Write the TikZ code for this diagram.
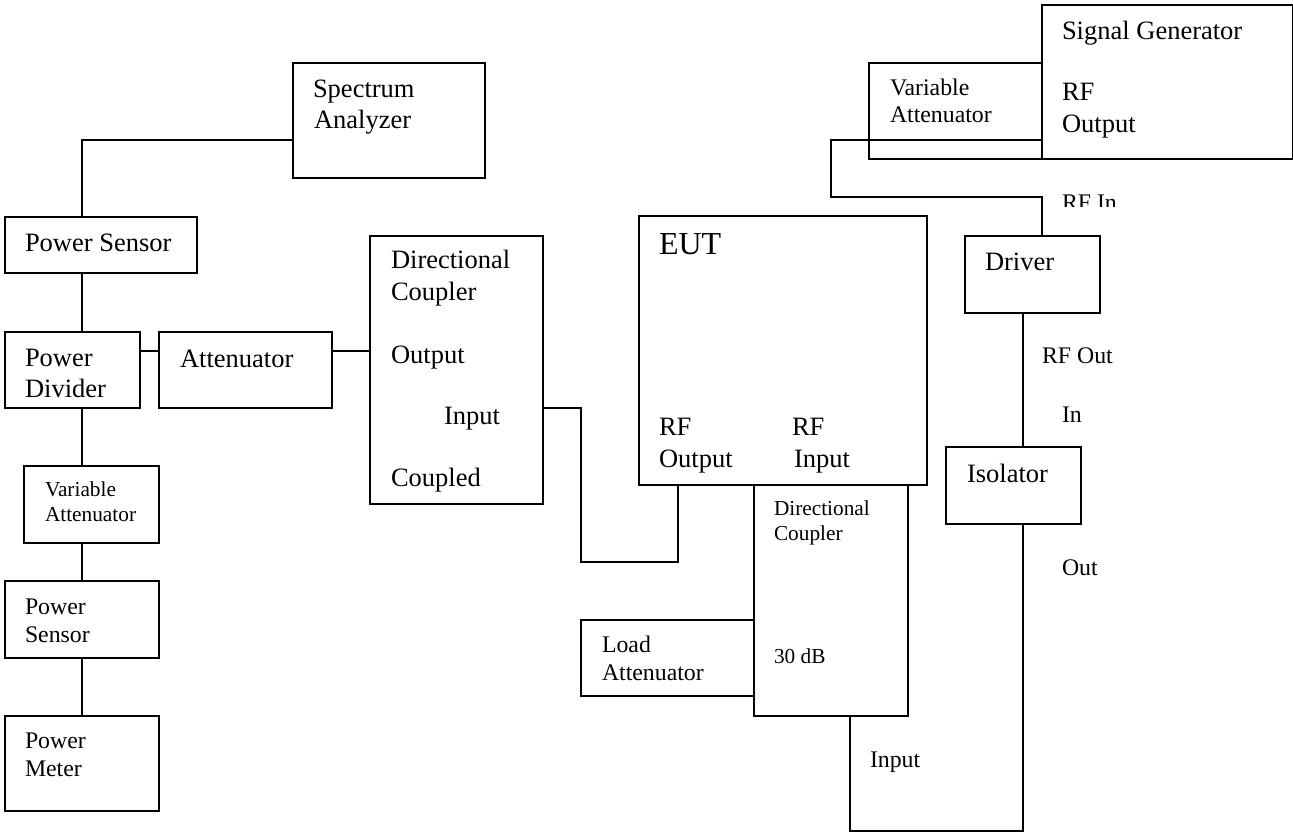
\documentclass[tikz,border=0pt]{standalone}
\usepackage{fontspec}
\setmainfont{Liberation Serif}
\usetikzlibrary{calc}
\newcommand{\bx}[5]{\node[boxnode,minimum width={(#4-#2)*1pt},minimum height={(#5-#3)*1pt}] (#1) at ({(#2+#4)/2},{(#3+#5)/2}) {};}
\newcommand{\tx}[5][txt]{\node[#1] (#2) at (#3,#4) {#5};}
\tikzset{
 boxnode/.style={draw=black,line width=1.7pt,inner sep=0pt,outer sep=0pt,rectangle},
 wire/.style={draw=black,line width=1.7pt,line join=miter},
 txt/.style={anchor=base west,inner sep=0pt,outer sep=0pt,font=\fontsize{26.5}{27}\selectfont},
 med/.style={txt,font=\fontsize{23.8}{24}\selectfont},
 sml/.style={txt,font=\fontsize{21.3}{22}\selectfont},
 big/.style={txt,font=\fontsize{32}{32}\selectfont}
}
\begin{document}
\begin{tikzpicture}[x=1pt,y=-1pt]
\useasboundingbox (0,0) rectangle (1293,834);
% boxes
\bx{sa}{293}{63}{485}{178}
\bx{ps}{5}{217}{197}{273}
\bx{pd}{5}{332}{140}{408}
\bx{at}{159}{332}{332}{408}
\bx{dc}{370}{236}{543}{504}
\bx{va}{24}{466}{159}{543}
\bx{pb}{5}{581}{159}{658}
\bx{pm}{5}{716}{159}{811}
\bx{eut}{639}{216}{927}{485}
\bx{la}{581}{620}{754}{696}
\bx{dd}{754}{485}{908}{716}
\bx{iso}{946}{447}{1081}{524}
\bx{drv}{965}{236}{1100}{313}
\bx{vt}{869}{63}{1042}{159}
\bx{sg}{1042}{5}{1293}{159}
% port coordinates
\coordinate (p1) at (82,140);
\coordinate (p2) at (581,408);
\coordinate (p3) at (581,562);
\coordinate (p4) at (678,562);
\coordinate (p5) at (831,140);
\coordinate (p6) at (831,197);
\coordinate (p7) at (1042,197);
\coordinate (p8) at (850,831);
\coordinate (p9) at (1023,831);
% connectors
\draw[wire] (sa.west |- p1) -- (p1) -- (p1 |- ps.north);
\draw[wire] (p1 |- ps.south) -- (p1 |- pd.north);
\draw[wire] (pd.east |- 0,351) -- (at.west |- 0,351);
\draw[wire] (at.east |- 0,351) -- (dc.west |- 0,351);
\draw[wire] (p1 |- pd.south) -- (p1 |- va.north);
\draw[wire] (p1 |- va.south) -- (p1 |- pb.north);
\draw[wire] (p1 |- pb.south) -- (p1 |- pm.north);
\draw[wire] (dc.east |- p2) -- (p2) -- (p3) -- (p4) -- (p4 |- eut.south);
\draw[wire] (sg.west |- p5) -- (p5) -- (p6) -- (p7) -- (p7 |- drv.north);
\draw[wire] (p9 |- drv.south) -- (p9 |- iso.north);
\draw[wire] (p9 |- iso.south) -- (p9) -- (p8) -- (p8 |- dd.south);
% text
\tx{t1}{313}{98}{Spectrum}
\tx{t2}{314}{129}{Analyzer}
\tx{t3}{25}{252}{Power Sensor}
\tx{t4}{25}{366}{Power}
\tx{t5}{25}{397}{Divider}
\tx{t6}{180}{367}{Attenuator}
\tx{t7}{391}{269}{Directional}
\tx{t8}{391}{301}{Coupler}
\tx{t9}{391}{363}{Output}
\tx{t10}{444}{424}{Input}
\tx{t11}{391}{486}{Coupled}
\tx[sml]{t12}{45}{496}{Variable}
\tx[sml]{t13}{45}{521}{Attenuator}
\tx[med]{t14}{25}{614}{Power}
\tx[med]{t15}{25}{642}{Sensor}
\tx[med]{t16}{25}{748}{Power}
\tx[med]{t17}{25}{776}{Meter}
\tx[big]{t18}{659}{255}{EUT}
\tx{t19}{659}{435}{RF}
\tx{t20}{659}{467}{Output}
\tx{t21}{792}{435}{RF}
\tx{t22}{794}{467}{Input}
\tx[sml]{t23}{774}{515}{Directional}
\tx[sml]{t24}{774}{540}{Coupler}
\tx[sml]{t25}{774}{663}{30 dB}
\tx[med]{t26}{602}{652}{Load}
\tx[med]{t27}{602}{680}{Attenuator}
\tx[med]{t28}{870}{767}{Input}
\tx{t29}{967}{482}{Isolator}
\tx{t30}{985}{271}{Driver}
\tx[med]{t31}{1042}{363}{RF Out}
\tx[med]{t32}{1062}{422}{In}
\tx[med]{t33}{1062}{575}{Out}
\tx[med]{t34}{890}{96}{Variable}
\tx[med]{t35}{890}{123}{Attenuator}
\tx{t36}{1062}{40}{Signal Generator}
\tx{t37}{1062}{101}{RF}
\tx{t38}{1062}{133}{Output}
\begin{scope}
\clip (1050,185) rectangle (1130,207);
\tx[med]{t39}{1062}{211}{RF In}
\end{scope}
\end{tikzpicture}
\end{document}
